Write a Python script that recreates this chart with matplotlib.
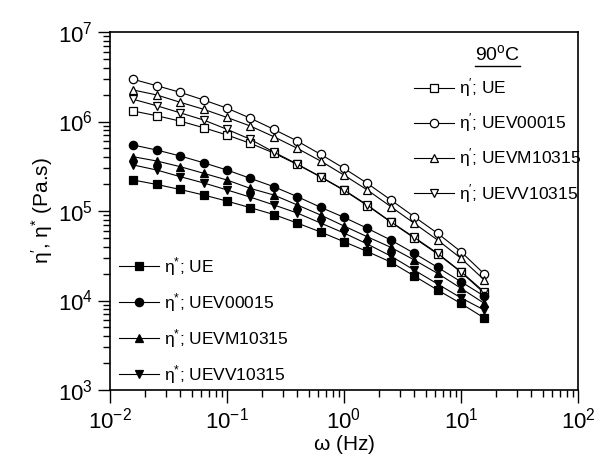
import matplotlib
matplotlib.use("Agg")
import matplotlib.pyplot as plt
from matplotlib.lines import Line2D

plt.rcParams['font.family'] = ['Liberation Sans', 'DejaVu Sans']
plt.rcParams['mathtext.fontset'] = 'custom'
plt.rcParams['mathtext.rm'] = 'Liberation Sans'
plt.rcParams['mathtext.it'] = 'Liberation Sans:italic'
plt.rcParams['mathtext.default'] = 'regular'

# frequency (Hz)
freq = [0.0158, 0.0251, 0.0398, 0.0631, 0.1, 0.158, 0.251, 0.398,
        0.631, 1.0, 1.58, 2.51, 3.98, 6.31, 10.0, 15.8]

# eta' (Pa.s), open symbols
eta1_UE = [1.31e6, 1.16e6, 1.01e6, 8.52e5, 7.07e5, 5.71e5, 4.45e5, 3.31e5,
           2.40e5, 1.70e5, 1.15e5, 7.54e4, 4.99e4, 3.31e4, 2.08e4, 1.21e4]
eta1_UEV00015 = [2.96e6, 2.51e6, 2.12e6, 1.74e6, 1.41e6, 1.09e6, 8.18e5, 6.06e5,
                 4.30e5, 3.00e5, 2.04e5, 1.33e5, 8.64e4, 5.63e4, 3.51e4, 1.98e4]
eta1_UEVM10315 = [2.25e6, 1.98e6, 1.64e6, 1.37e6, 1.11e6, 8.91e5, 6.77e5, 5.02e5,
                  3.62e5, 2.52e5, 1.72e5, 1.12e5, 7.29e4, 4.74e4, 2.96e4, 1.70e4]
eta1_UEVV10315 = [1.77e6, 1.50e6, 1.25e6, 1.04e6, 8.18e5, 6.33e5, 4.56e5, 3.35e5,
                  2.42e5, 1.72e5, 1.17e5, 7.59e4, 5.08e4, 3.37e4, 2.10e4, 1.25e4]

# eta* (Pa.s), filled symbols
etas_UE = [2.22e5, 1.98e5, 1.74e5, 1.51e5, 1.29e5, 1.09e5, 9.14e4, 7.34e4,
           5.83e4, 4.54e4, 3.53e4, 2.69e4, 1.88e4, 1.31e4, 9.26e3, 6.38e3]
etas_UEV00015 = [5.46e5, 4.80e5, 4.12e5, 3.46e5, 2.87e5, 2.32e5, 1.87e5, 1.45e5,
                 1.10e5, 8.50e4, 6.41e4, 4.74e4, 3.37e4, 2.35e4, 1.62e4, 1.12e4]
etas_UEVM10315 = [4.04e5, 3.62e5, 3.13e5, 2.64e5, 2.22e5, 1.79e5, 1.51e5, 1.17e5,
                  9.02e4, 6.80e4, 5.16e4, 3.93e4, 2.84e4, 2.01e4, 1.37e4, 9.30e3]
etas_UEVV10315 = [3.27e5, 2.87e5, 2.42e5, 2.06e5, 1.72e5, 1.43e5, 1.17e5, 9.50e4,
                  7.34e4, 5.68e4, 4.28e4, 3.14e4, 2.19e4, 1.53e4, 1.07e4, 7.83e3]

names = ['UE', 'UEV00015', 'UEVM10315', 'UEVV10315']
markers = ['s', 'o', '^', 'v']
eta1_all = [eta1_UE, eta1_UEV00015, eta1_UEVM10315, eta1_UEVV10315]
etas_all = [etas_UE, etas_UEV00015, etas_UEVM10315, etas_UEVV10315]

fig = plt.figure(figsize=(6.01, 4.72), dpi=100)
ax = fig.add_axes([0.183, 0.1737, 0.7787, 0.7585])

open_lines = []
filled_lines = []
for vals, m, n in zip(eta1_all, markers, names):
    l, = ax.plot(freq, vals, '-', color='black', lw=0.8, marker=m, ms=6,
                 mfc='white', mec='black', mew=0.9,
                 label=r'$\mathrm{\eta}^{\prime}$; ' + n)
    open_lines.append(l)
for vals, m, n in zip(etas_all, markers, names):
    l, = ax.plot(freq, vals, '-', color='black', lw=0.8, marker=m, ms=6,
                 mfc='black', mec='black', mew=0.9,
                 label=r'$\mathrm{\eta}^{*}$; ' + n)
    filled_lines.append(l)

ax.set_xscale('log')
ax.set_yscale('log')
ax.set_xlim(1e-2, 1e2)
ax.set_ylim(1e3, 1e7)

for s in ax.spines.values():
    s.set_linewidth(1.2)
ax.tick_params(which='both', direction='out', top=False, right=False,
               labelsize=16, width=1.0)
ax.tick_params(which='major', length=9)
ax.tick_params(which='minor', length=5)

ax.set_xlabel(r'$\mathrm{\omega}$ (Hz)', fontsize=15, labelpad=0)
ax.set_ylabel(r'$\mathrm{\eta}^{\prime}$, $\mathrm{\eta}^{*}$ (Pa.s)',
              fontsize=15, labelpad=2)

leg1 = ax.legend(handles=open_lines, loc='upper left',
                 bbox_to_anchor=(0.635, 0.985), frameon=False, fontsize=12.5,
                 numpoints=1, handlelength=2.3, handletextpad=0.3,
                 labelspacing=0.7, borderaxespad=0,
                 title=r'90$^{\mathrm{o}}$C', title_fontsize=14)
ax.add_artist(leg1)
leg2 = ax.legend(handles=filled_lines, loc='lower left',
                 bbox_to_anchor=(0.005, -0.008), frameon=False, fontsize=12.5,
                 numpoints=1, handlelength=2.3, handletextpad=0.3,
                 labelspacing=0.75, borderaxespad=0)

# underline the legend title
fig.canvas.draw()
bb = leg1.get_title().get_window_extent().transformed(fig.transFigure.inverted())
fig.add_artist(Line2D([bb.x0, bb.x1], [bb.y0 - 0.004, bb.y0 - 0.004],
                      transform=fig.transFigure, color='black', lw=1.0))

fig.savefig('out.png', dpi=100)
